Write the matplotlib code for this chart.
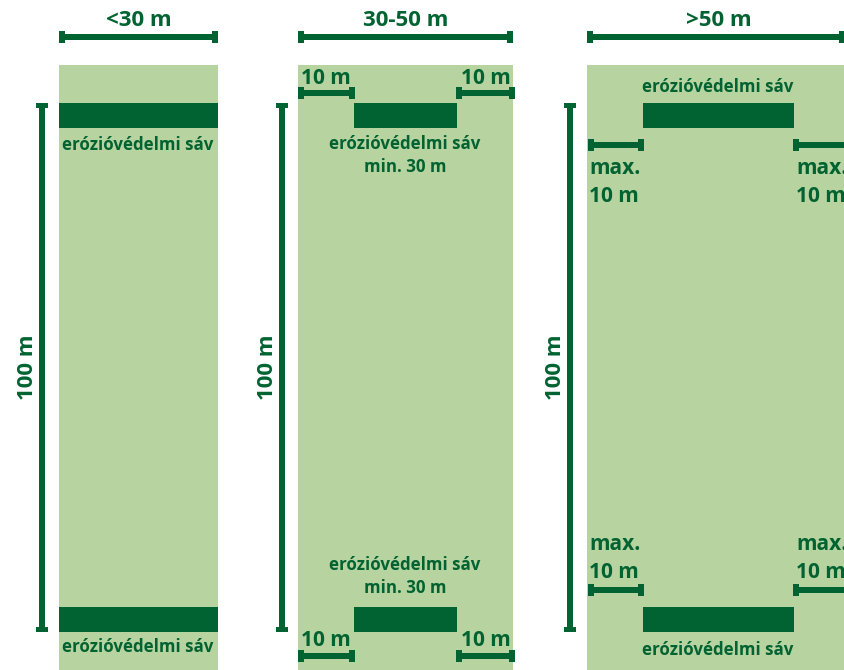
import matplotlib.pyplot as plt
from matplotlib.patches import Rectangle

# ================================================
# Diagram content
# ================================================
panel_titles = ["<30 m", "30-50 m", ">50 m"]
length_label = "100 m"
strip_label = "erózióvédelmi sáv"
min_label = "min. 30 m"
gap_label = "10 m"
max_label = "max."

LIGHT = "#b7d3a0"
DARK = "#006331"

W, H = 845, 670
FONT = "Open Sans"

fig = plt.figure(figsize=(W / 100, H / 100), dpi=100)
ax = fig.add_axes([0, 0, 1, 1])
ax.set_xlim(0, W)
ax.set_ylim(H, 0)
ax.axis("off")


def rect(x0, x1, y0, y1, color, z=1):
    ax.add_patch(Rectangle((x0, y0), x1 - x0, y1 - y0, color=color, lw=0, zorder=z))


def dim_h(x0, x1, y, t=6, cap=12, capw=6):
    """Horizontal dimension line with end caps."""
    rect(x0, x1, y - t / 2, y + t / 2, DARK, 3)
    rect(x0, x0 + capw, y - cap / 2, y + cap / 2, DARK, 3)
    rect(x1 - capw, x1, y - cap / 2, y + cap / 2, DARK, 3)


def dim_v(x, y0, y1, t=6, cap=12, capw=5):
    """Vertical dimension line with end caps."""
    rect(x - t / 2, x + t / 2, y0, y1, DARK, 3)
    rect(x - cap / 2, x + cap / 2, y0, y0 + capw, DARK, 3)
    rect(x - cap / 2, x + cap / 2, y1 - capw, y1, DARK, 3)


def txt(x, y, s, size=12.2, ha="center", rot=0):
    ax.text(x, y, s, ha=ha, va="center", fontsize=size, color=DARK,
            fontweight="bold", family=FONT, rotation=rot, zorder=4)


# panel geometry (pixels)
panels = [(59, 218), (298, 513), (587, 860)]
vbar_x = [42, 282, 570]
top_y, bot_y = 103, 632

for (x0, x1), title, vx in zip(panels, panel_titles, vbar_x):
    rect(x0, x1, 65, H + 5, LIGHT, 1)
    dim_h(x0, min(x1, W), 37)
    txt((x0 + min(x1, 851)) / 2, 20, title, size=16)
    dim_v(vx, top_y, bot_y)
    txt(vx - 14, 367, length_label, size=16, rot=90)

# panel 1: full-width strips
rect(59, 218, 103, 128, DARK, 2)
rect(59, 218, 607, 632, DARK, 2)
txt(138, 145, strip_label)
txt(138, 647, strip_label)

# panel 2: centred strips with 10 m margins
rect(354, 457, 103, 128, DARK, 2)
rect(354, 457, 607, 632, DARK, 2)
dim_h(298, 355, 93)
dim_h(456, 515, 93)
txt(326, 78, gap_label, size=15)
txt(486, 78, gap_label, size=15)
txt(405, 144, strip_label)
txt(405, 167, min_label)
txt(405, 565, strip_label)
txt(405, 588, min_label)
dim_h(298, 355, 656)
dim_h(456, 515, 656)
txt(326, 640, gap_label, size=15)
txt(486, 640, gap_label, size=15)

# panel 3: strips with max 10 m margins
rect(643, 794, 103, 128, DARK, 2)
rect(643, 794, 607, 632, DARK, 2)
txt(718, 87, strip_label)
txt(718, 650, strip_label)
dim_h(588, 644, 145)
dim_h(793, 860, 145)
for lx in [589, 796]:
    txt(lx, 169, max_label, size=15, ha="left")
    txt(lx, 196, gap_label, size=15, ha="left")
    txt(lx, 545, max_label, size=15, ha="left")
    txt(lx, 572, gap_label, size=15, ha="left")
dim_h(588, 644, 590)
dim_h(793, 860, 590)

fig.savefig("out.png", dpi=100)
